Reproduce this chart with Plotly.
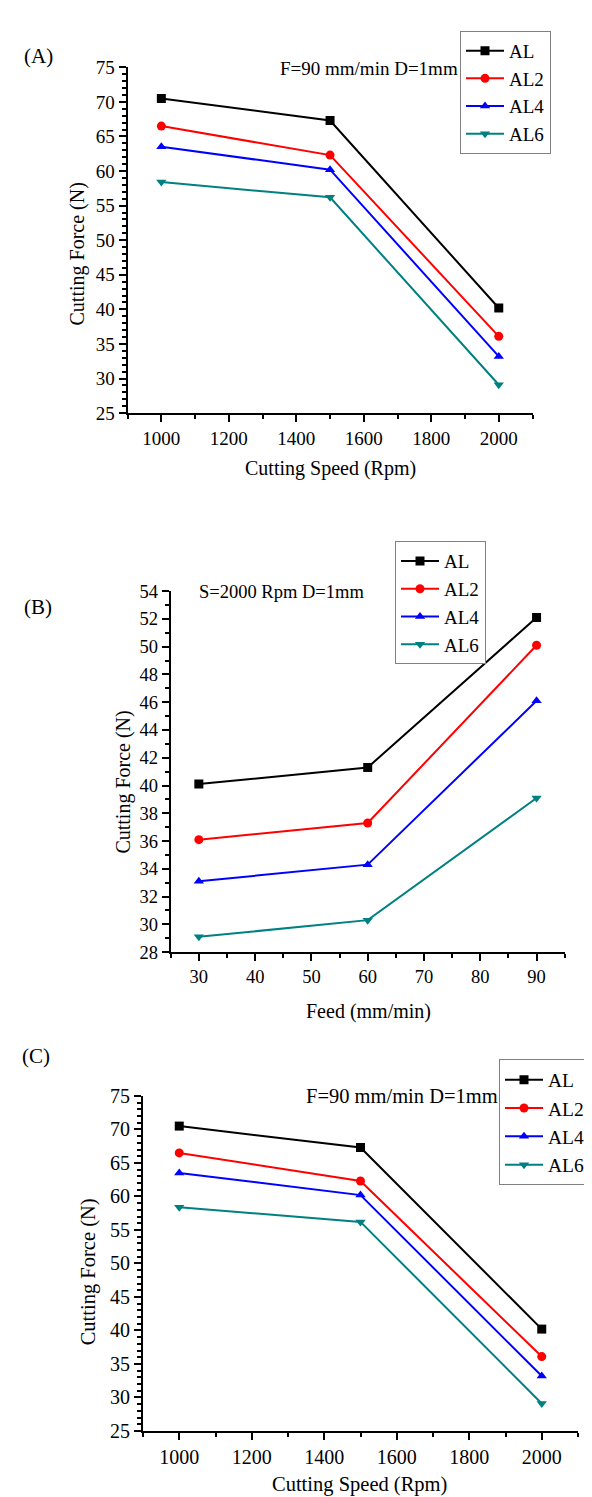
import plotly.graph_objects as go

# ---------------- data ----------------
alloys = ["AL", "AL2", "AL4", "AL6"]
colors = ["#000000", "#FF0000", "#0000FF", "#008080"]
symbols = ["square", "circle", "triangle-up", "triangle-down"]

speed_rpm = [1000, 1500, 2000]
force_speed_al = [70.5, 67.3, 40.2]
force_speed_al2 = [66.5, 62.3, 36.1]
force_speed_al4 = [63.5, 60.2, 33.2]
force_speed_al6 = [58.4, 56.2, 29.1]

feed_mm_min = [30, 60, 90]
force_feed_al = [40.1, 41.3, 52.1]
force_feed_al2 = [36.1, 37.3, 50.1]
force_feed_al4 = [33.1, 34.3, 46.1]
force_feed_al6 = [29.1, 30.3, 39.1]

speed_series = [force_speed_al, force_speed_al2, force_speed_al4, force_speed_al6]
feed_series = [force_feed_al, force_feed_al2, force_feed_al4, force_feed_al6]

W, H = 592, 1497
FONT = "Liberation Serif, Times New Roman, serif"


def px(x):
    return x / W


def py(y):
    return 1 - y / H


fig = go.Figure()

panels = [
    # (xaxis id, yaxis id, x, series, legend id)
    ("x", "y", speed_rpm, speed_series, "legend"),
    ("x2", "y2", feed_mm_min, feed_series, "legend2"),
    ("x3", "y3", speed_rpm, speed_series, "legend3"),
]

for xa, ya, xs, series, lg in panels:
    for name, vals, col, sym in zip(alloys, series, colors, symbols):
        fig.add_trace(go.Scatter(
            x=xs, y=vals, name=name, mode="lines+markers",
            xaxis=xa, yaxis=ya, legend=lg,
            line=dict(color=col, width=2),
            marker=dict(symbol=sym, size=9, color=col),
        ))


def axis_style(fs, dtick, minor_dtick, rng, domain, anchor, tick0=None):
    d = dict(
        range=rng, domain=domain, anchor=anchor,
        showgrid=False, zeroline=False,
        showline=True, linecolor="black", linewidth=2,
        ticks="outside", ticklen=7, tickwidth=2, tickcolor="black",
        dtick=dtick, tickmode="linear",
        minor=dict(dtick=minor_dtick, ticks="outside", ticklen=4,
                   tickwidth=1.5, tickcolor="black", showgrid=False),
        tickfont=dict(family=FONT, size=fs, color="black"),
        mirror=False, fixedrange=True,
    )
    if tick0 is not None:
        d["tick0"] = tick0
        d["minor"]["tick0"] = tick0
    return d


layout = dict(
    width=W, height=H,
    margin=dict(l=0, r=0, t=0, b=0),
    paper_bgcolor="white", plot_bgcolor="white",
    font=dict(family=FONT, color="black"),
    showlegend=True,
)

# Panel A
layout["xaxis"] = axis_style(19, 200, 100, [900, 2100], [px(119.6), px(524.5)], "y", 1000)
layout["yaxis"] = axis_style(19, 5, 1, [25, 75], [py(400), py(49)], "x", 25)
# Panel B
layout["xaxis2"] = axis_style(18.5, 10, 5, [25, 95], [px(162.7), px(556.7)], "y2", 30)
layout["yaxis2"] = axis_style(18.5, 2, 1, [28, 54], [py(947), py(580.7)], "x2", 28)
# Panel C
layout["xaxis3"] = axis_style(20, 200, 100, [900, 2100], [px(135), px(570)], "y3", 1000)
layout["yaxis3"] = axis_style(20, 5, 1, [25, 75], [py(1433), py(1093)], "x3", 25)


def legend_style(x, y, fs):
    return dict(
        x=px(x), y=py(y), xanchor="left", yanchor="top",
        xref="paper", yref="paper",
        bgcolor="white", bordercolor="#808080", borderwidth=1,
        font=dict(family=FONT, size=fs, color="black"),
        itemwidth=38, tracegroupgap=0,
    )


layout["legend"] = legend_style(452, 12, 19)
layout["legend2"] = legend_style(387, 530, 19)
layout["legend3"] = legend_style(491, 1056, 19.5)

annotations = []


def ann(text, x, y, fs, xanchor="left", yanchor="middle", angle=0):
    annotations.append(dict(
        text=text, x=px(x), y=py(y), xref="paper", yref="paper",
        xanchor=xanchor, yanchor=yanchor, showarrow=False, textangle=angle,
        font=dict(family=FONT, size=fs, color="black"),
    ))


# panel letters
ann("(A)", 14, 38, 21)
ann("(B)", 14, 597, 21)
ann("(C)", 12, 1052, 21)

# condition notes
ann("F=90 mm/min D=1mm", 270, 50, 19)
ann("S=2000 Rpm D=1mm", 189, 582, 18.5)
ann("F=90 mm/min D=1mm", 296, 1093, 20.5)

# axis titles
ann("Cutting Speed (Rpm)", 322, 456, 20, xanchor="center")
ann("Cutting Force (N)", 69, 239, 20, xanchor="center", angle=-90)
ann("Feed (mm/min)", 360, 1007, 20, xanchor="center")
ann("Cutting Force (N)", 116, 775, 20, xanchor="center", angle=-90)
ann("Cutting Speed (Rpm)", 351, 1487, 20.5, xanchor="center")
ann("Cutting Force (N)", 80, 1272, 20.5, xanchor="center", angle=-90)

layout["annotations"] = annotations

fig.update_layout(**layout)
fig.write_html("out.html")
